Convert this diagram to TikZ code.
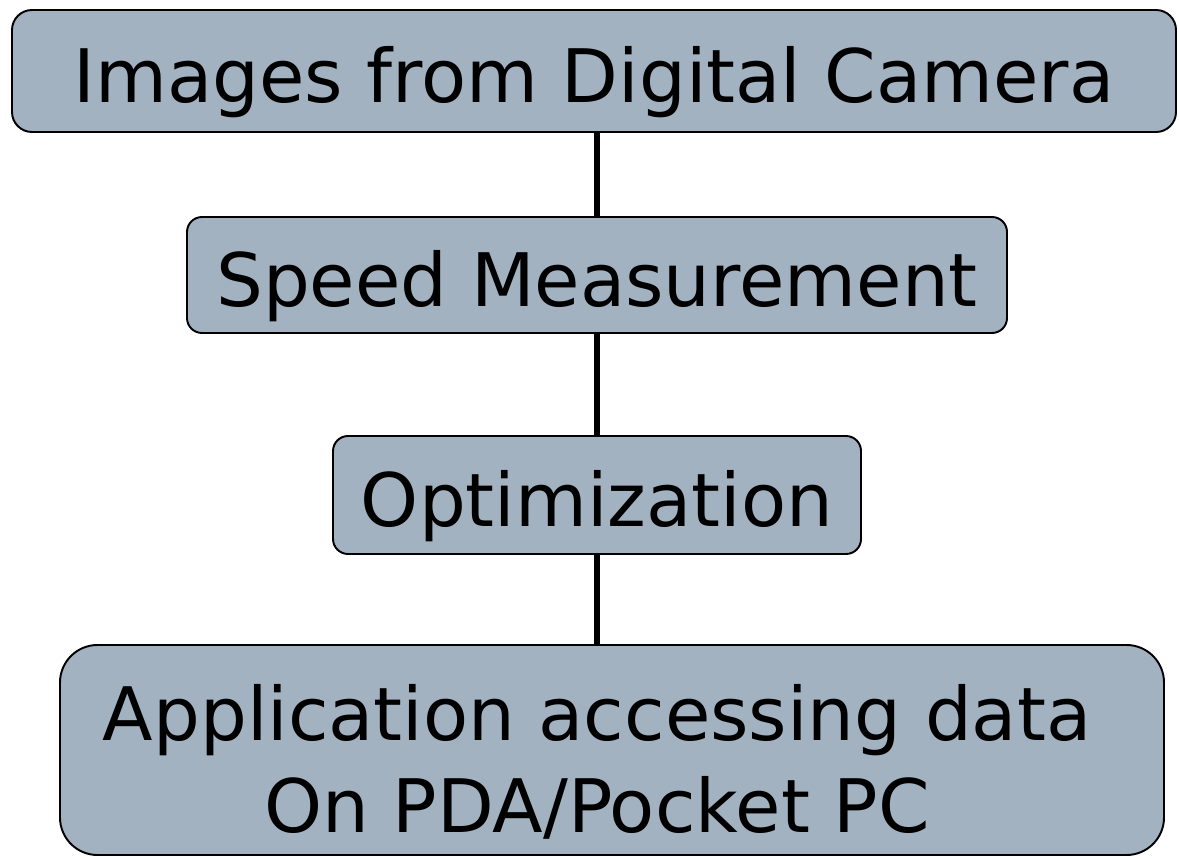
\documentclass[tikz,border=0pt]{standalone}
\usepackage{fontspec}
\setmainfont{DejaVu Sans}
\definecolor{boxfill}{RGB}{163,178,193}

\begin{document}
\begin{tikzpicture}[
  box/.style={draw=black, line width=1.1pt, fill=boxfill, inner sep=0pt,
              align=center, font=\fontsize{42}{52}\selectfont,
              text height=1.26cm, text depth=0pt},
  link/.style={draw=black, line width=2.9pt},
]
\useasboundingbox (0,0) rectangle (23.58,-17.18);

% ============ the four stages ============
\node[box, rounded corners=0.4cm, minimum width=23.28cm, minimum height=2.44cm]
  (cam) at (11.88,-1.42) {Images from Digital Camera};
\node[box, rounded corners=0.3cm, minimum width=16.4cm, minimum height=2.32cm]
  (speed) at (11.94,-5.50) {Speed Measurement};
\node[box, rounded corners=0.3cm, minimum width=10.56cm, minimum height=2.36cm]
  (opt) at (11.94,-9.90) {Optimization};
% text sits a little left of the box centre
\node[box, rounded corners=0.75cm, minimum width=22.08cm, minimum height=4.2cm,
      text height=3.28cm]
  (app) at (12.24,-15.0) {Application accessing data\hspace*{0.6cm}\\
                          On PDA/Pocket PC\hspace*{0.6cm}};

% connectors
\draw[link] (speed.north |- cam.south) -- (speed.north);
\draw[link] (speed.south) -- (opt.north);
\draw[link] (opt.south) -- (opt.south |- app.north);

\end{tikzpicture}
\end{document}
